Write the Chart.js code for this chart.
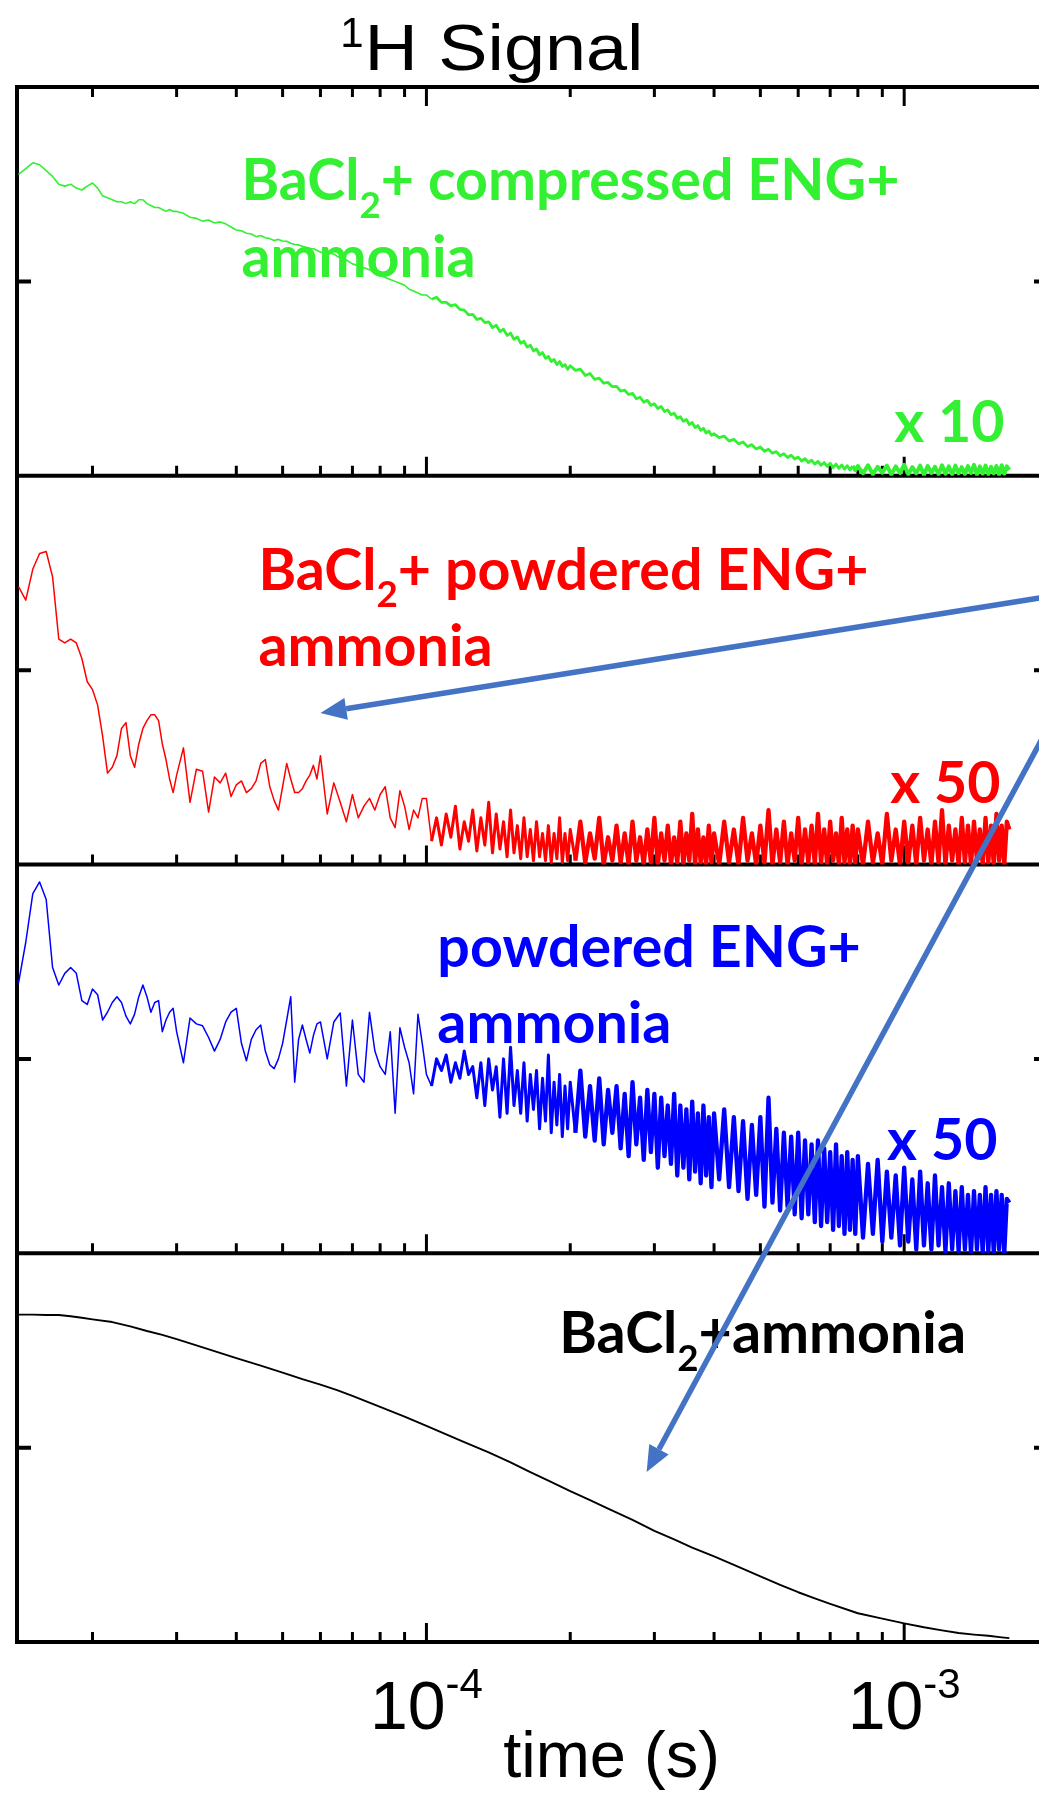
<!DOCTYPE html>
<html>
<head>
<meta charset="utf-8">
<title>1H Signal</title>
<script src="https://cdn.jsdelivr.net/npm/chart.js@4.4.1/dist/chart.umd.min.js"></script>
<style>
  html, body { margin: 0; padding: 0; background: #fff; overflow: hidden; }
  #wrap { width: 1039px; height: 1795px; overflow: hidden; }
  canvas { display: block; }
</style>
</head>
<body>
<div id="wrap"><canvas id="nmrChart" width="1060" height="1795"></canvas></div>
<script>
// sample times (microseconds) for the three noisy traces
var timeUs = [
    14, 14.5, 15, 15.5, 16, 16.5, 17, 17.5, 18, 18.5, 19, 19.5,
    20, 20.5, 21, 21.5, 22, 22.5, 23, 23.5, 24, 24.5, 25, 25.5, 26, 26.5, 27, 27.5, 28, 28.5, 29, 29.5,
    30, 31, 32, 33, 34, 35, 36, 37, 38, 39, 40, 41, 42, 43, 44, 45, 46, 47, 48, 49, 50, 51, 52, 53, 54, 55, 56, 57, 58, 59,
    60, 62, 64, 66, 68, 70, 72, 74, 76, 78, 80, 82, 84, 86, 88, 90, 92, 94, 96, 98,
    100, 102.5, 105, 107.5, 110, 112.5, 115, 117.5, 120, 122.5, 125, 127.5, 130, 132.5, 135, 137.5, 140, 142.5, 145, 147.5,
    150, 152.5, 155, 157.5, 160, 162.5, 165, 167.5, 170, 172.5, 175, 177.5, 180, 182.5, 185, 187.5, 190, 192.5, 195, 197.5,
    200, 205, 210, 215, 220, 225, 230, 235, 240, 245, 250, 255, 260, 265, 270, 275, 280, 285, 290, 295,
    300, 305, 310, 315, 320, 325, 330, 335, 340, 345, 350, 355, 360, 365, 370, 375, 380, 385, 390, 395,
    400, 410, 420, 430, 440, 450, 460, 470, 480, 490, 500, 510, 520, 530, 540, 550, 560, 570, 580, 590,
    600, 610, 620, 630, 640, 650, 660, 670, 680, 690, 700, 710, 720, 730, 740, 750, 760, 770, 780, 790,
    800, 820, 840, 860, 880, 900, 920, 940, 960, 980, 1000, 1020, 1040, 1060, 1080, 1100, 1120, 1140, 1160, 1180,
    1200, 1220, 1240, 1260, 1280, 1300, 1320, 1340, 1360, 1380, 1400, 1420, 1440, 1460, 1480, 1500, 1520, 1540, 1560, 1580,
    1600, 1620, 1640, 1660
];

// signal in % of the panel height
var greenSignal = [
    77.5, 79, 80.5, 80, 78.5, 77, 75, 74.5, 75, 74, 73.5, 74.5,
    75.3, 74, 72, 71.5, 71, 70.5, 70.5, 70, 70.5, 70, 71, 71, 70, 69.5, 69, 69, 68.5, 68, 68.5, 68,
    68, 67.5, 66.5, 66.2, 65.5, 65.8, 65, 65.3, 64.8, 64, 63.2, 63, 62.4, 62.2, 61.5, 61.8, 61.2, 61, 60.5, 60.8, 60.4, 60.3, 59.8, 59.5, 59.4, 59, 58.8, 58.5, 58.4, 58,
    57.5, 57.5, 57, 56, 55.5, 54.5, 54, 53.5, 53, 52.5, 51.5, 51, 50.5, 50, 49.5, 49, 48, 47.5, 47, 46.5,
    46.5, 45.4, 45.9, 44.6, 44.6, 43.7, 44.0, 42.8, 42.6, 41.4, 41.5, 40.2, 40.5, 39.4, 39.6, 38.1, 38.7, 37.1, 37.7, 36.1,
    36.7, 35.1, 35.7, 34.1, 34.6, 33.1, 33.6, 32.1, 32.6, 31.1, 31.7, 30.2, 30.7, 29.4, 29.9, 28.6, 29.4, 28.1, 28.6, 27.4,
    28.3, 27.1, 27.4, 25.8, 26.3, 24.8, 25.1, 23.8, 24.0, 22.9, 23.0, 21.8, 22.0, 20.9, 21.2, 19.8, 20.2, 18.9, 19.4, 18.1,
    18.5, 17.3, 17.8, 16.5, 16.9, 15.7, 16.1, 14.8, 15.2, 14.0, 14.5, 13.2, 13.7, 12.4, 12.9, 11.7, 12.2, 11.0, 11.5, 10.4,
    10.8, 9.8, 10.2, 8.9, 9.4, 8.2, 8.7, 7.5, 8.0, 6.9, 7.4, 6.3, 6.8, 5.8, 6.2, 5.1, 5.7, 4.7, 5.3, 4.3,
    4.8, 3.8, 4.4, 3.4, 4.0, 3.0, 3.7, 2.7, 3.4, 2.4, 3.2, 2.1, 3.0, 1.9, 2.8, 1.7, 2.6, 1.5, 2.5, 1.4,
    2.5, 0.6, 2.7, 0.4, 2.3, 0.8, 2.6, 0.3, 2.4, 0.7, 2.8, 0.4, 2.2, 0.6, 2.6, 0.2, 2.5, 0.7, 2.3, 0.4,
    2.7, 0.5, 2.4, 0.3, 2.6, 0.6, 2.2, 0.4, 2.5, 0.7, 2.8, 0.3, 2.4, 0.5, 2.6, 0.4, 2.3, 0.6, 2.5, 0.3,
    2.7, 0.5, 2.4, 1.5
];

var redSignal = [
    71.5, 68, 76, 80, 80.5, 74, 58, 57, 58, 57, 53, 47,
    45, 41, 33, 23.5, 25, 28, 35, 36.5, 28, 25, 31, 35, 37, 38.5, 38.5, 37, 31, 27, 22, 18.5,
    23, 30, 16, 24.5, 24, 13.5, 22.5, 21, 23.5, 17.5, 20.5, 21.5, 18.5, 19.5, 21.5, 26, 27, 20, 16.5, 14, 20, 26, 22, 18.5, 18.5, 19.5, 21.5, 23, 25.5, 22,
    28, 13, 21, 16, 11, 18, 12, 15, 17, 14, 18, 20, 12, 9.5, 19, 15, 9, 14, 12, 17,
    17, 6, 12, 5, 13, 7, 15, 4, 11, 6, 14, 3.5, 12, 5, 16, 3, 13, 4, 11, 2,
    14, 3, 10, 1.5, 12, 2, 9, 1, 11, 2, 8, 1, 10, 0.5, 8, 1.5, 12, 0.5, 8, 1,
    9, 1, 11, 0.5, 8, 1.5, 12, 0, 7, 1, 10, 0.5, 8, 0, 11, 1, 7, 0, 9, 0.5,
    12, 0, 8, 1, 10, 0, 7, 0.5, 11, 0, 8, 1, 13, 0, 9, 0.5, 7, 0, 10, 0.5,
    8, 0, 11, 0.5, 9, 0, 12, 1, 8, 0, 10, 0.5, 14, 0, 9, 0.5, 11, 0, 8, 1,
    12, 0, 9, 0.5, 10, 0, 13, 0.5, 9, 0, 11, 1, 8, 0, 12, 0.5, 9, 0, 10, 0.5,
    9, 0, 11, 0.5, 8, 0, 13, 1, 9, 0, 11, 0.5, 10, 0, 12, 1, 9, 0, 11, 0.5,
    14, 0, 10, 1, 9, 0, 12, 0.5, 10, 0, 11, 1, 9, 0, 12, 0.5, 10, 0, 13, 1,
    10, 0, 11, 9
];

var blueSignal = [
    69.5, 80, 92.5, 95.5, 91, 73.5, 69, 72, 73.5, 72, 65, 64,
    68, 66.5, 60, 62, 64.5, 66, 64.5, 61, 59, 61.5, 66, 69, 66, 62, 64.5, 65, 57, 60, 62, 63,
    57, 49, 60.5, 59, 58.5, 55.5, 52, 55, 59.5, 62, 63, 54, 49.5, 55, 57.5, 58.7, 52, 48.5, 47.5, 50, 54, 60, 66, 44, 55, 58.7, 55, 51.5, 56, 59,
    59.5, 50, 59.5, 61.8, 43, 60, 46, 44, 62, 52, 48, 46, 57, 36, 58, 53, 49, 41, 61.5, 54,
    46, 43, 50, 47, 51, 44, 49, 45, 52, 46, 48, 40, 49, 38, 50, 42, 48, 35, 50, 36,
    53, 38, 47, 36, 49, 34, 46, 37, 47, 32, 45, 34, 51, 31, 44, 33, 46, 30, 43, 32,
    44, 31, 47, 30, 43, 29, 45, 28, 42, 31, 43, 27, 41, 25, 44, 28, 40, 24, 42, 26,
    41, 22, 40, 25, 38, 23, 41, 20, 38, 22, 37, 19, 39, 21, 36, 18, 38, 20, 35, 17,
    36, 19, 37, 17, 35, 16, 34, 14, 33, 15, 35, 12, 40, 13, 32, 11, 31, 12, 30, 10,
    31, 9, 29, 10, 28, 8, 29, 7, 27, 8, 26, 6, 28, 7, 25, 5, 26, 6, 24, 5,
    25, 4, 23, 5, 24, 3, 21, 4, 20, 2, 22, 3, 19, 1, 21, 2, 18, 1, 20, 2,
    17, 0.5, 18, 1, 16, 0.5, 17, 1, 15, 0, 16, 1, 15, 0, 17, 0.5, 15, 0, 16, 1,
    15, 0, 14, 13
];

// the black trace is smooth, a coarser set of times is enough
var timeUsSmooth = [
    14, 15, 16, 17, 18, 19, 20, 22, 24, 26, 28, 30, 33, 36, 40, 45, 50, 55, 60, 65, 70,
    80, 90, 100, 110, 120, 135, 150, 165, 180, 200, 220, 240, 270, 300, 330, 360,
    400, 450, 500, 550, 600, 650, 700, 800, 900, 1000, 1100, 1200, 1300, 1400, 1500, 1600, 1660
];
var blackSignal = [
    84.2, 84.2, 84.1, 84.1, 83.8, 83.4, 83, 82.3, 81.2, 80, 79, 77.9, 76.3, 74.8, 73, 71.1, 69.3, 67.6, 66.2, 64.8, 63.3,
    60.5, 58, 55.6, 53.4, 51.4, 48.8, 46.2, 43.7, 41.5, 38.8, 36.5, 34.3, 31.4, 28.6, 26.4, 24.3,
    22, 19.3, 16.9, 14.7, 12.8, 11.2, 9.8, 7.4, 6, 4.8, 3.8, 3, 2.3, 1.9, 1.6, 1.2, 1
];

// axis
var xMin = 1.39e-5, xMax = 2.0e-3;
var majorTicks = [1e-4, 1e-3];
var majorTickExps = ['-4', '-3'];
var minorTicks = [2e-5, 3e-5, 4e-5, 5e-5, 6e-5, 7e-5, 8e-5, 9e-5,
                  2e-4, 3e-4, 4e-4, 5e-4, 6e-4, 7e-4, 8e-4, 9e-4];
var yTickValue = 50;

// panels, bottom to top (Chart.js stacks the last one on top)
var panelIds = ['yBlack', 'yBlue', 'yRed', 'yGreen'];

var GREEN = '#33f033', RED = '#ff0000', BLUE = '#0000ff', BLACK = '#000000', ARROW = '#4472c4';

// text notes, anchored in data coordinates of each panel ("_2_" = subscript)
var notes = [
    { axis: 'yGreen', t: 41.0e-6, v: 70.9, text: 'BaCl_2_+ compressed ENG+', color: GREEN },
    { axis: 'yGreen', t: 41.0e-6, v: 51.1, text: 'ammonia', color: GREEN },
    { axis: 'yGreen', t: 953e-6, v: 8.6, text: 'x 10', color: GREEN },
    { axis: 'yRed', t: 44.5e-6, v: 70.6, text: 'BaCl_2_+ powdered ENG+', color: RED },
    { axis: 'yRed', t: 44.5e-6, v: 51.0, text: 'ammonia', color: RED },
    { axis: 'yRed', t: 935e-6, v: 15.8, text: 'x 50', color: RED },
    { axis: 'yBlue', t: 105.4e-6, v: 73.6, text: 'powdered ENG+', color: BLUE },
    { axis: 'yBlue', t: 105.4e-6, v: 54.1, text: 'ammonia', color: BLUE },
    { axis: 'yBlue', t: 921e-6, v: 24.0, text: 'x 50', color: BLUE },
    { axis: 'yBlack', t: 189.7e-6, v: 74.3, text: 'BaCl_2_+ammonia', color: BLACK }
];

var arrows = [
    { from: { axis: 'yRed', t: 2070e-6, v: 69.2 }, to: { axis: 'yRed', t: 60e-6, v: 39.0 } },
    { from: { axis: 'yRed', t: 2068e-6, v: 38.5 }, to: { axis: 'yBlack', t: 289e-6, v: 43.7 } }
];

function toPoints(times, values) {
    if (times.length !== values.length) {
        console.warn('length mismatch', times.length, values.length);
    }
    return times.map(function(t, i) { return { x: t * 1e-6, y: values[i] }; });
}

// the dense noisy tail of a trace reads as a filled band: draw it thicker
function bandWidth(thin, from, mid, thick, thickFrom) {
    return function(ctx) {
        var t = ctx.p0.parsed.x;
        if (t >= thickFrom) return thick;
        if (t >= from) return mid;
        return thin;
    };
}

function px(chart, p) {
    return {
        x: chart.scales.x.getPixelForValue(p.t),
        y: chart.scales[p.axis].getPixelForValue(p.v)
    };
}

var framePlugin = {
    id: 'frame',
    beforeDatasetsDraw: function(chart) {
        var ctx = chart.ctx;
        var area = chart.chartArea;
        var xs = chart.scales.x;
        var topId = panelIds.reduce(function(a, b) {
            return chart.scales[a].top < chart.scales[b].top ? a : b;
        });

        ctx.save();
        ctx.strokeStyle = '#000';
        panelIds.forEach(function(id) {
            var s = chart.scales[id];
            var edges = [{ y: s.bottom, dir: -1 }];
            if (id === topId) edges.push({ y: s.top, dir: 1 });

            edges.forEach(function(e) {
                ctx.lineWidth = 3;
                majorTicks.concat(minorTicks).forEach(function(v) {
                    var len = majorTicks.indexOf(v) >= 0 ? 19 : 10;
                    var x = xs.getPixelForValue(v);
                    ctx.beginPath();
                    ctx.moveTo(x, e.y);
                    ctx.lineTo(x, e.y + e.dir * len);
                    ctx.stroke();
                });
                ctx.lineWidth = 4;
                ctx.beginPath();
                ctx.moveTo(area.left - 2, e.y);
                ctx.lineTo(area.right + 2, e.y);
                ctx.stroke();
            });

            var yt = s.getPixelForValue(yTickValue);
            ctx.lineWidth = 4;
            ctx.beginPath();
            ctx.moveTo(area.left, yt);
            ctx.lineTo(area.left + 14, yt);
            ctx.moveTo(area.right, yt);
            ctx.lineTo(area.right - 14, yt);
            ctx.stroke();
        });

        ctx.lineWidth = 4;
        ctx.beginPath();
        ctx.moveTo(area.left, area.top - 2);
        ctx.lineTo(area.left, area.bottom + 2);
        ctx.moveTo(area.right, area.top - 2);
        ctx.lineTo(area.right, area.bottom + 2);
        ctx.stroke();
        ctx.restore();
    }
};

function drawRich(ctx, text, x, y, size, color, sx) {
    var parts = text.split('_');
    ctx.save();
    ctx.translate(x, y);
    ctx.scale(sx, 1);
    ctx.fillStyle = color;
    ctx.textAlign = 'left';
    ctx.textBaseline = 'alphabetic';
    var cx = 0;
    parts.forEach(function(p, i) {
        var sub = i % 2 === 1;
        ctx.font = 'bold ' + (sub ? size * 0.64 : size) + 'px Lato';
        ctx.fillText(p, cx, sub ? size * 0.3 : 0);
        cx += ctx.measureText(p).width;
    });
    ctx.restore();
}

function richWidth(ctx, text, size) {
    var w = 0;
    text.split('_').forEach(function(p, i) {
        ctx.font = 'bold ' + (i % 2 === 1 ? size * 0.64 : size) + 'px Lato';
        w += ctx.measureText(p).width;
    });
    return w;
}

var notesPlugin = {
    id: 'notes',
    afterDraw: function(chart) {
        var ctx = chart.ctx;
        var area = chart.chartArea;
        var xs = chart.scales.x;
        var labelSize = 58;
        // the source labels use a narrow bold face; squeeze Lato to the same width
        var sx = 658 / richWidth(ctx, notes[0].text, labelSize);

        notes.forEach(function(n) {
            var p = px(chart, n);
            drawRich(ctx, n.text, p.x, p.y, labelSize, n.color, sx);
        });

        // title
        ctx.save();
        ctx.fillStyle = '#000';
        ctx.textBaseline = 'alphabetic';
        ctx.font = '64px "Liberation Sans"';
        var tsx = 279 / ctx.measureText('H Signal').width;
        var hx = xs.getPixelForValue(74.2e-6);
        ctx.save();
        ctx.translate(hx, area.top - 17);
        ctx.scale(tsx, 1);
        ctx.textAlign = 'left';
        ctx.fillText('H Signal', 0, 0);
        ctx.restore();
        ctx.font = '42px "Liberation Sans"';
        ctx.textAlign = 'right';
        ctx.fillText('1', hx - 1, area.top - 40);

        // x tick labels
        majorTicks.forEach(function(v, i) {
            var x = xs.getPixelForValue(v);
            ctx.font = '68px "Liberation Sans"';
            var wb = ctx.measureText('10').width;
            ctx.font = '42px "Liberation Sans"';
            var we = ctx.measureText(majorTickExps[i]).width;
            var left = x - (wb + we) / 2;
            ctx.textAlign = 'left';
            ctx.font = '68px "Liberation Sans"';
            ctx.fillText('10', left, area.bottom + 87);
            ctx.font = '42px "Liberation Sans"';
            ctx.fillText(majorTickExps[i], left + wb, area.bottom + 56);
        });

        // x axis title
        ctx.font = '65px "Liberation Sans"';
        ctx.textAlign = 'center';
        ctx.fillText('time (s)', xs.getPixelForValue(244e-6), area.bottom + 135);
        ctx.restore();

        // arrows
        ctx.save();
        ctx.strokeStyle = ARROW;
        ctx.fillStyle = ARROW;
        ctx.lineWidth = 5.5;
        arrows.forEach(function(a) {
            var s = px(chart, a.from), e = px(chart, a.to);
            var ang = Math.atan2(e.y - s.y, e.x - s.x);
            var headLen = 26, headHalf = 11;
            var bx = e.x - headLen * Math.cos(ang), by = e.y - headLen * Math.sin(ang);
            ctx.beginPath();
            ctx.moveTo(s.x, s.y);
            ctx.lineTo(bx, by);
            ctx.stroke();
            ctx.beginPath();
            ctx.moveTo(e.x, e.y);
            ctx.lineTo(bx + headHalf * Math.sin(ang), by - headHalf * Math.cos(ang));
            ctx.lineTo(bx - headHalf * Math.sin(ang), by + headHalf * Math.cos(ang));
            ctx.closePath();
            ctx.fill();
        });
        ctx.restore();
    }
};

var scales = {
    x: { type: 'logarithmic', min: xMin, max: xMax, bounds: 'data', display: false }
};
panelIds.forEach(function(id) {
    scales[id] = { type: 'linear', position: 'left', stack: 'panels', stackWeight: 1,
                   min: 0, max: 100, display: false };
});

var chart = new Chart(document.getElementById('nmrChart'), {
    type: 'line',
    data: {
        datasets: [
            { label: 'BaCl2 + compressed ENG + ammonia', data: toPoints(timeUs, greenSignal),
              yAxisID: 'yGreen', borderColor: GREEN, borderWidth: 1.6,
              segment: { borderWidth: bandWidth(1.6, 100e-6, 2.8, 4.0, 780e-6) } },
            { label: 'BaCl2 + powdered ENG + ammonia', data: toPoints(timeUs, redSignal),
              yAxisID: 'yRed', borderColor: RED, borderWidth: 1.5,
              segment: { borderWidth: bandWidth(1.5, 100e-6, 3.0, 4.3, 200e-6) } },
            { label: 'powdered ENG + ammonia', data: toPoints(timeUs, blueSignal),
              yAxisID: 'yBlue', borderColor: BLUE, borderWidth: 1.5,
              segment: { borderWidth: bandWidth(1.5, 100e-6, 3.0, 4.3, 200e-6) } },
            { label: 'BaCl2 + ammonia', data: toPoints(timeUsSmooth, blackSignal),
              yAxisID: 'yBlack', borderColor: BLACK, borderWidth: 1.9 }
        ]
    },
    options: {
        responsive: false,
        animation: false,
        devicePixelRatio: 1,
        layout: { padding: { left: 17, right: 12, top: 87, bottom: 153 } },
        elements: { point: { radius: 0 }, line: { tension: 0, fill: false, borderJoinStyle: 'round' } },
        plugins: { legend: { display: false }, tooltip: { enabled: false } },
        scales: scales
    },
    plugins: [framePlugin, notesPlugin]
});
</script>
</body>
</html>
